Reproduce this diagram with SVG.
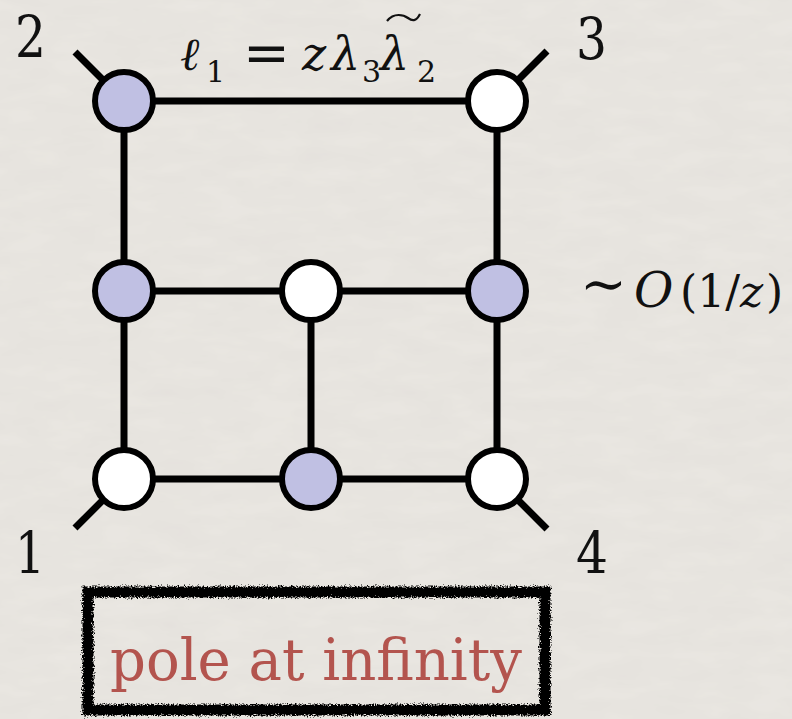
<svg xmlns="http://www.w3.org/2000/svg" width="792" height="719" viewBox="0 0 792 719">
  <style>
    .edge { stroke: #000; stroke-width: 7; stroke-linecap: butt; fill: none; }
    .leg { stroke: #000; stroke-width: 7; stroke-linecap: butt; }
    .node { stroke: #000; stroke-width: 6; }
    .black { fill: #c0c0e3; }
    .white { fill: #ffffff; }
    .serif { font-family: "DejaVu Serif", "Liberation Serif", serif; }
    .num { font-size: 58px; fill: #111; }
    .math { fill: #111; }
    .it { font-style: italic; }
    .pole { font-size: 58px; fill: #b3544e; }
  </style>
  <defs>
    <filter id="rough" x="-5%" y="-10%" width="110%" height="120%">
      <feTurbulence type="fractalNoise" baseFrequency="0.7" numOctaves="2" seed="3" result="n"/>
      <feDisplacementMap in="SourceGraphic" in2="n" scale="7" xChannelSelector="R" yChannelSelector="G"/>
    </filter>
    <filter id="paper" x="0" y="0" width="100%" height="100%">
      <feTurbulence type="fractalNoise" baseFrequency="0.02 0.06" numOctaves="3" seed="7" result="t"/>
      <feColorMatrix in="t" type="matrix" values="0 0 0 0 0  0 0 0 0 0  0 0 0 0 0  0 0 0 0.10 0" result="a"/>
      <feComposite in="a" in2="SourceGraphic" operator="over"/>
    </filter>
  </defs>

  <rect x="0" y="0" width="792" height="719" fill="#ebe8e3"/>
  <rect x="0" y="0" width="792" height="719" fill="#ebe8e3" filter="url(#paper)" opacity="0.6"/>

  <g id="connectors">
    <line class="edge" x1="124" y1="101" x2="497" y2="101"/>
    <line class="edge" x1="124" y1="291" x2="497" y2="291"/>
    <line class="edge" x1="124" y1="479" x2="497" y2="479"/>
    <line class="edge" x1="124" y1="101" x2="124" y2="479"/>
    <line class="edge" x1="497" y1="101" x2="497" y2="479"/>
    <line class="edge" x1="311" y1="291" x2="311" y2="479"/>
    <line class="leg" x1="124" y1="101" x2="75" y2="52"/>
    <line class="leg" x1="497" y1="101" x2="547" y2="51"/>
    <line class="leg" x1="124" y1="479" x2="75" y2="528"/>
    <line class="leg" x1="497" y1="479" x2="547" y2="529"/>
  </g>

  <g id="n_tl"><circle class="node black" cx="124" cy="101" r="29"/></g>
  <g id="n_tr"><circle class="node white" cx="497" cy="101" r="29"/></g>
  <g id="n_ml"><circle class="node black" cx="124" cy="291" r="29"/></g>
  <g id="n_mm"><circle class="node white" cx="311" cy="291" r="29"/></g>
  <g id="n_mr"><circle class="node black" cx="497" cy="291" r="29"/></g>
  <g id="n_bl"><circle class="node white" cx="124" cy="479" r="29"/></g>
  <g id="n_bm"><circle class="node black" cx="311" cy="479" r="29"/></g>
  <g id="n_br"><circle class="node white" cx="497" cy="479" r="29"/></g>

  <g id="labels">
    <text class="serif num" x="15" y="57" textLength="31" lengthAdjust="spacingAndGlyphs">2</text>
    <text class="serif num" x="576" y="59" textLength="31" lengthAdjust="spacingAndGlyphs">3</text>
    <text class="serif num" x="15" y="573" textLength="30" lengthAdjust="spacingAndGlyphs">1</text>
    <text class="serif num" x="576" y="573" textLength="32" lengthAdjust="spacingAndGlyphs">4</text>

    <text class="serif math" font-size="46"><tspan class="it" x="180" y="70">ℓ</tspan><tspan x="206" y="82" font-size="30">1</tspan><tspan x="243" y="72" font-size="56">=</tspan><tspan class="it" x="302" y="70">z</tspan><tspan class="it" x="331" y="70">λ</tspan><tspan x="362" y="82" font-size="30">3</tspan><tspan class="it" x="380" y="70">λ</tspan><tspan x="417" y="82" font-size="30">2</tspan></text>
    <path d="M387 21 C 394 12, 404 15, 408 18 S 416 22, 420 14" fill="none" stroke="#111" stroke-width="2.2"/>

    <text class="serif math" font-size="44"><tspan x="580" y="303" font-size="56">∼</tspan><tspan class="it" x="634" y="307" font-size="48">O</tspan><tspan x="680" y="307">(1/</tspan><tspan class="it" x="740" y="307">z</tspan><tspan x="766" y="307">)</tspan></text>
  </g>

  <g id="pole-box">
    <rect x="88" y="592" width="457" height="118" fill="none" stroke="#000" stroke-width="11" filter="url(#rough)"/>
    <text class="serif pole" x="110" y="680" textLength="412" lengthAdjust="spacingAndGlyphs">pole at infinity</text>
  </g>
</svg>
